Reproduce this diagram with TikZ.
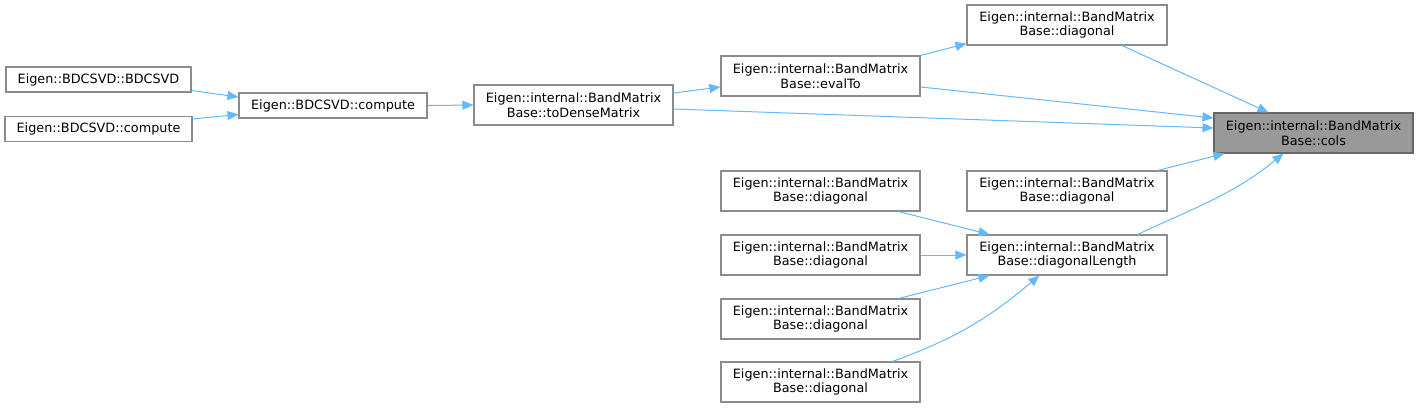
\documentclass[tikz,border=0pt]{standalone}
\usepackage{fontspec}
\setmainfont{DejaVu Sans}
\usetikzlibrary{arrows.meta,calc}
\definecolor{edgeblue}{HTML}{63B8FF}
\definecolor{boxborder}{HTML}{8C8C8C}
\definecolor{hlfill}{HTML}{999999}
\definecolor{hlborder}{HTML}{666666}
\begin{document}
\begin{tikzpicture}[x=1pt,y=1pt,
  box/.style={draw=boxborder,line width=1.1pt,fill=white,inner sep=0pt,align=center,
    minimum height=40pt,font=\fontsize{12.8}{14.6}\selectfont},
  onebox/.style={box,minimum height=25pt},
  hl/.style={box,fill=hlfill,draw=hlborder},
  edge/.style={draw=edgeblue,line width=1pt,-{Triangle[length=11pt,width=9pt]}}]
\useasboundingbox (0,0) rectangle (1419,-408);
% nodes
\node[hl,minimum width=199pt] (cols) at (1313.5,-133) {Eigen::internal::BandMatrix\\Base::cols};
\node[box,minimum width=200pt] (diagTop) at (1067,-25) {Eigen::internal::BandMatrix\\Base::diagonal};
\node[box,minimum width=199pt] (evalTo) at (820.5,-76) {Eigen::internal::BandMatrix\\Base::evalTo};
\node[box,minimum width=199pt] (toDense) at (573.5,-105) {Eigen::internal::BandMatrix\\Base::toDenseMatrix};
\node[onebox,minimum width=188pt] (compute) at (333,-105.5) {Eigen::BDCSVD::compute};
\node[onebox,minimum width=185pt] (bdcsvd) at (98.5,-79.5) {Eigen::BDCSVD::BDCSVD};
\node[onebox,minimum width=187pt] (compute2) at (98.5,-129) {Eigen::BDCSVD::compute};
\node[box,minimum width=200pt] (diag2) at (1067,-191) {Eigen::internal::BandMatrix\\Base::diagonal};
\node[box,minimum width=200pt] (dlen) at (1067,-255) {Eigen::internal::BandMatrix\\Base::diagonalLength};
\node[box,minimum width=199pt] (L1) at (820.5,-191) {Eigen::internal::BandMatrix\\Base::diagonal};
\node[box,minimum width=199pt] (L2) at (820.5,-255) {Eigen::internal::BandMatrix\\Base::diagonal};
\node[box,minimum width=199pt] (L3) at (820.5,-319) {Eigen::internal::BandMatrix\\Base::diagonal};
\node[box,minimum width=199pt] (L4) at (820.5,-382) {Eigen::internal::BandMatrix\\Base::diagonal};
% edges
\draw[edge] ($(bdcsvd.south east)+(0,2)$) -- ($(compute.west)+(0,8.5)$);
\draw[edge] ($(compute2.north east)+(0,-3)$) -- ($(compute.west)+(0,-9)$);
\draw[edge] (compute.east) -- (toDense.west);
\draw[edge] ($(toDense.east)+(0,12)$) -- ($(evalTo.west)+(0,-11)$);
\draw[edge] ($(toDense.east)+(0,-4)$) -- ($(cols.west)+(0,5)$);
\draw[edge] (evalTo.north east) -- ($(diagTop.south west)+(0,2)$);
\draw[edge] ($(evalTo.east)+(0,-11)$) -- ($(cols.west)+(0,15)$);
\draw[edge] ($(diagTop.south)+(55,0)$) -- ($(cols.north)+(-45,0)$);
\draw[edge] ($(diag2.north east)+(-10,0)$) -- ($(cols.south west)+(11,0)$);
\draw[edge] ($(dlen.north east)+(-30,0)$) to[out=25,in=-141] ($(cols.south)+(-30,0)$);
\draw[edge] ($(L1.south east)+(-22,0)$) -- ($(dlen.north west)+(23,0)$);
\draw[edge] (L2.east) -- (dlen.west);
\draw[edge] ($(L3.north east)+(-22,0)$) -- ($(dlen.south west)+(23,0)$);
\draw[edge] ($(L4.north east)+(-28,0)$) to[out=20,in=-140] ($(dlen.south west)+(73,0)$);
\end{tikzpicture}
\end{document}
